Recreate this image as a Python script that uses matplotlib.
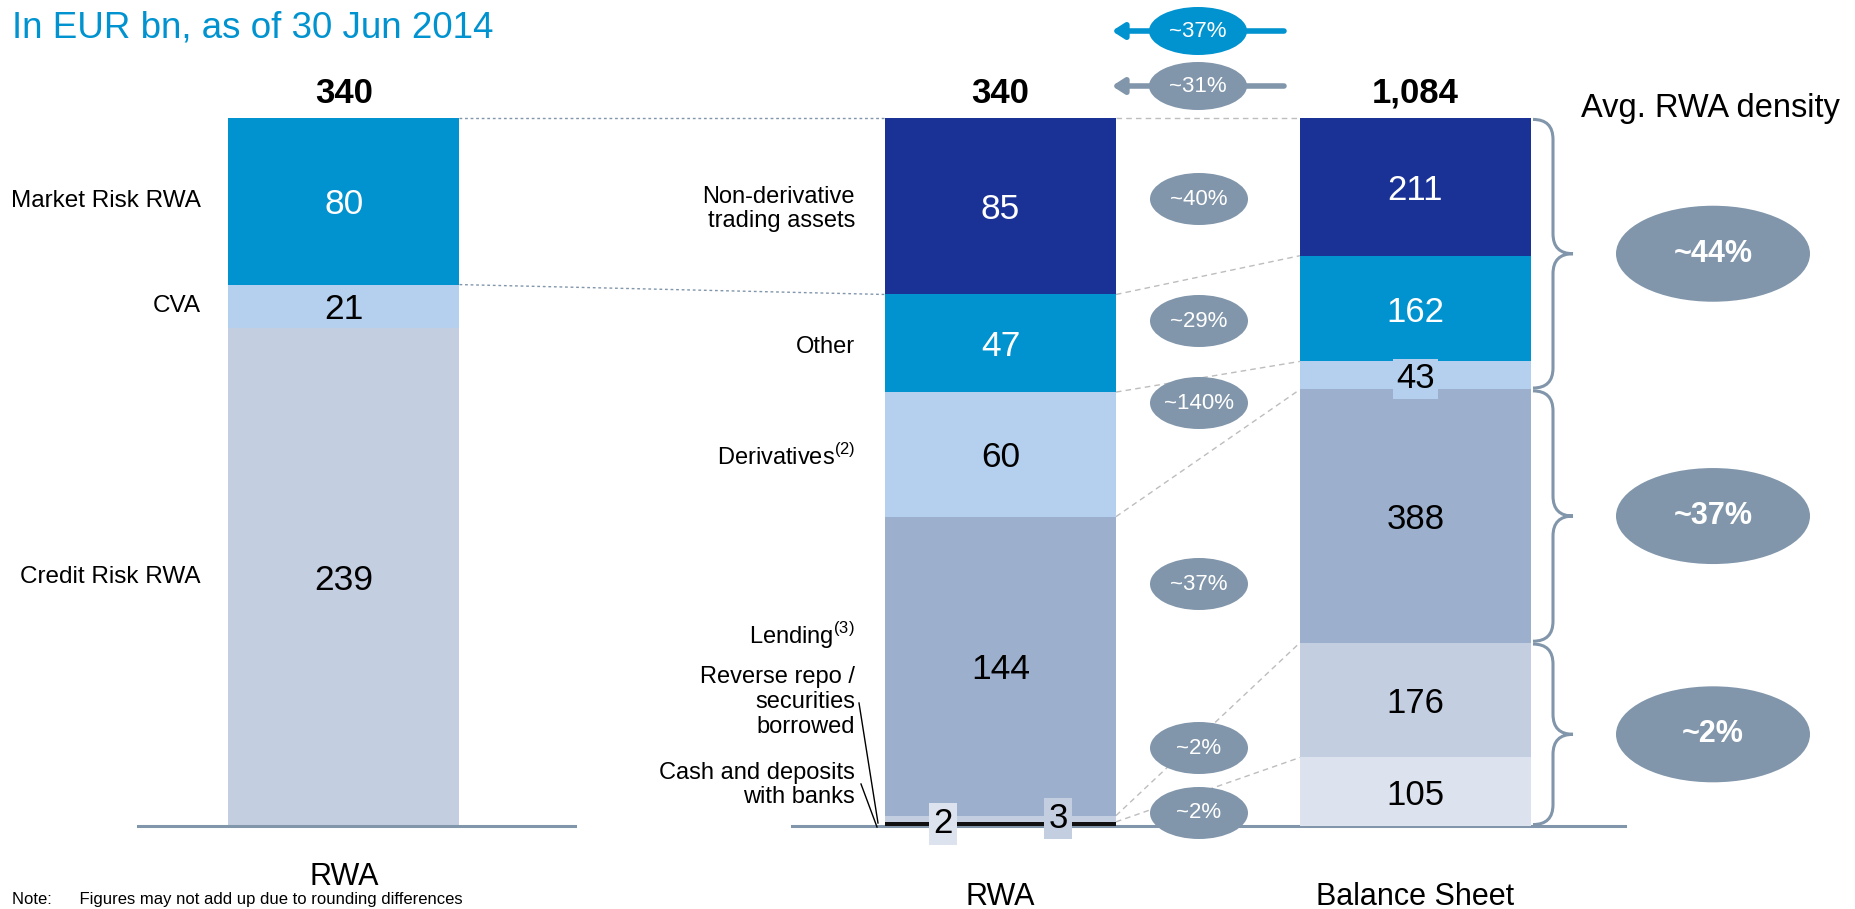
import numpy as np
import matplotlib.pyplot as plt
from matplotlib.patches import Ellipse, PathPatch
from matplotlib.path import Path

plt.rcParams['font.family'] = ['Liberation Sans', 'DejaVu Sans']
plt.rcParams['mathtext.fontset'] = 'custom'
plt.rcParams['mathtext.rm'] = 'Liberation Sans'
NARROW = ['Liberation Sans Narrow', 'Liberation Sans', 'DejaVu Sans']

# ---- data (stacked bottom -> top) ----
rwa_labels = ['Credit Risk RWA', 'CVA', 'Market Risk RWA']
rwa_values = [239, 21, 80]
rwa_total = '340'

asset_labels = ['Cash and deposits\nwith banks', 'Reverse repo /\nsecurities\nborrowed',
                'Lending$^{(3)}$', 'Derivatives$^{(2)}$', 'Other',
                'Non-derivative\ntrading assets']
asset_rwa = [2, 3, 144, 60, 47, 85]
asset_rwa_total = '340'
balance_sheet = [105, 176, 388, 43, 162, 211]
balance_total = '1,084'
density = ['~2%', '~2%', '~37%', '~140%', '~29%', '~40%']
group_density = ['~2%', '~37%', '~44%']
group_bounds = [(0, 2), (2, 3), (3, 6)]
arrow_labels = ['~37%', '~31%']
categories = ['RWA', 'RWA', 'Balance Sheet']

# ---- colours ----
BLUE = '#0093d0'
NAVY = '#1a3296'
LIGHT = '#b4d0ee'
LEND = '#9cb0ce'
GREYBLUE = '#c3cee1'
PALE = '#dce3ef'
SLATE = '#8196ab'

rwa_colors = [GREYBLUE, LIGHT, BLUE]
mid_colors = ['#111111', GREYBLUE, LEND, LIGHT, BLUE, NAVY]
bs_colors = [PALE, GREYBLUE, LEND, LIGHT, BLUE, NAVY]
white_on = {BLUE, NAVY}

# ---- layout: x in pixels, y in share of bar total (0 at base, 1 at top) ----
W, H = 1856, 909
BASE, TOP = 826, 118
SPAN = BASE - TOP


def py(p):
    return (BASE - p) / SPAN


fig = plt.figure(figsize=(W / 100, H / 100), dpi=100)
ax = fig.add_axes([0, 0, 1, 1])
ax.set_xlim(0, W)
ax.set_ylim(py(H), py(0))
ax.axis('off')

bw = 231
xl, xm, xr = 344, 1000.5, 1415.5


def stack(x, vals, colors):
    vals = np.array(vals, dtype=float)
    cum = np.concatenate([[0], np.cumsum(vals)]) / vals.sum()
    ax.bar([x] * len(vals), np.diff(cum), bottom=cum[:-1], width=bw,
           color=colors, linewidth=0, zorder=2)
    return cum


cl = stack(xl, rwa_values, rwa_colors)
cm = stack(xm, asset_rwa, mid_colors)
cr = stack(xr, balance_sheet, bs_colors)

# baselines
ax.plot([138, 575], [0, 0], color=SLATE, lw=2.2, zorder=3)
ax.plot([792, 1625], [0, 0], color=SLATE, lw=2.2, zorder=1)

# value labels
for i, v in enumerate(rwa_values):
    ax.text(xl, (cl[i] + cl[i + 1]) / 2, str(v), ha='center', va='center_baseline',
            fontsize=25.5, color='white' if rwa_colors[i] in white_on else 'black', zorder=4)
    ax.text(201, (cl[i] + cl[i + 1]) / 2, rwa_labels[i], ha='right', va='center',
            fontsize=17.5, zorder=4)

for i, v in enumerate(asset_rwa):
    yc = (cm[i] + cm[i + 1]) / 2
    if v < 10:
        dx = -bw / 4 if i == 0 else bw / 4
        ax.text(xm + dx, yc, str(v), ha='center', va='center', fontsize=25, zorder=5,
                bbox=dict(boxstyle='square,pad=0.12', fc=PALE if i == 0 else GREYBLUE, ec='none'))
    else:
        ax.text(xm, yc, str(v), ha='center', va='center_baseline', fontsize=25.5,
                color='white' if mid_colors[i] in white_on else 'black', zorder=4)

lab_y = [785, 702, 636, 457, 347, 209]
for lab, yp in zip(asset_labels, lab_y):
    ax.text(855, py(yp), lab, ha='right', va='center', fontsize=17, linespacing=1.15, zorder=4)
# leader lines for the thin slices
ax.plot([861, 877], [py(784), py(827)], color='black', lw=1, zorder=4)
ax.plot([859, 878], [py(703), py(823)], color='black', lw=1, zorder=4)

for i, v in enumerate(balance_sheet):
    yc = (cr[i] + cr[i + 1]) / 2
    bbox = None
    if v < 60:
        bbox = dict(boxstyle='square,pad=0.1', fc=bs_colors[i], ec='none')
    ax.text(xr, yc, str(v), ha='center', va='center_baseline', fontsize=25, family=NARROW,
            color='white' if bs_colors[i] in white_on else 'black', zorder=5, bbox=bbox)

# totals and category labels
for x, t in zip([xl, xm, xr], [rwa_total, asset_rwa_total, balance_total]):
    ax.text(x, py(93), t, ha='center', va='center', fontsize=25, fontweight='bold',
            family=NARROW)
for x, t, yp in zip([xl, xm, xr], categories, [877, 897, 897]):
    ax.text(x, py(yp), t, ha='center', va='center', fontsize=22, family=NARROW)

# connectors left -> middle (dotted)
ax.plot([xl + bw / 2, xm - bw / 2], [cl[3], cm[6]], color=SLATE, lw=1, ls=(0, (2, 2)), zorder=1)
ax.plot([xl + bw / 2, xm - bw / 2], [cl[2], cm[5]], color=SLATE, lw=1, ls=(0, (2, 2)), zorder=1)

# connectors middle -> right (dashed grey)
for i in range(1, 7):
    ax.plot([xm + bw / 2, xr - bw / 2], [cm[i], cr[i]], color='#bdbdbd', lw=1,
            ls=(0, (4, 3)), zorder=1)

# density ellipses between bars
dens_y = [813, 748, 584, 403, 321, 199]
for t, yp in zip(density, dens_y):
    ax.add_patch(Ellipse((1199, py(yp)), 98, 52 / SPAN, fc=SLATE, ec='none', zorder=3))
    ax.text(1199, py(yp), t, ha='center', va='center', fontsize=16, color='white', zorder=4)


# braces and average density
def brace(y0, y1, x0=1533, w=40, r=20):
    r = r / SPAN
    mid = (y0 + y1) / 2
    xa, xt = x0 + w / 2, x0 + w
    verts = [(x0, y1), (xa, y1), (xa, y1 - r), (xa, mid + r), (xa, mid), (xt, mid),
             (xa, mid), (xa, mid - r), (xa, y0 + r), (xa, y0), (x0, y0)]
    codes = [Path.MOVETO, Path.CURVE3, Path.CURVE3, Path.LINETO, Path.CURVE3, Path.CURVE3,
             Path.CURVE3, Path.CURVE3, Path.LINETO, Path.CURVE3, Path.CURVE3]
    ax.add_patch(PathPatch(Path(verts, codes), fc='none', ec=SLATE, lw=2.2, zorder=3))
    return mid


for (a, b), t in zip(group_bounds, group_density):
    ym = brace(cr[a] + 0.002, cr[b] - 0.002)
    ax.add_patch(Ellipse((1713, ym), 194, 96 / SPAN, fc=SLATE, ec='none', zorder=3))
    ax.text(1713, ym, t, ha='center', va='center', fontsize=22, fontweight='bold',
            color='white', zorder=4)

ax.text(1710, py(108), 'Avg. RWA density', ha='center', va='center', fontsize=23.5,
        family=NARROW)

# top arrows
for t, yp, c in zip(arrow_labels, [31, 86], [BLUE, SLATE]):
    ax.annotate('', xy=(1112, py(yp)), xytext=(1284, py(yp)),
                arrowprops=dict(arrowstyle='-|>,head_length=0.7,head_width=0.45',
                                color=c, lw=4, shrinkA=0, shrinkB=0), zorder=3)
    ax.add_patch(Ellipse((1198, py(yp)), 98, 48 / SPAN, fc=c, ec='none', zorder=4))
    ax.text(1198, py(yp), t, ha='center', va='center', fontsize=16, color='white',
            family=NARROW, zorder=5)

# title and note
ax.text(12, py(28), 'In EUR bn, as of 30 Jun 2014', ha='left', va='center',
        fontsize=26.5, color=BLUE)
ax.text(12, py(907), 'Note:      Figures may not add up due to rounding differences',
        ha='left', va='bottom', fontsize=12)

fig.savefig('out.png', dpi=100)
